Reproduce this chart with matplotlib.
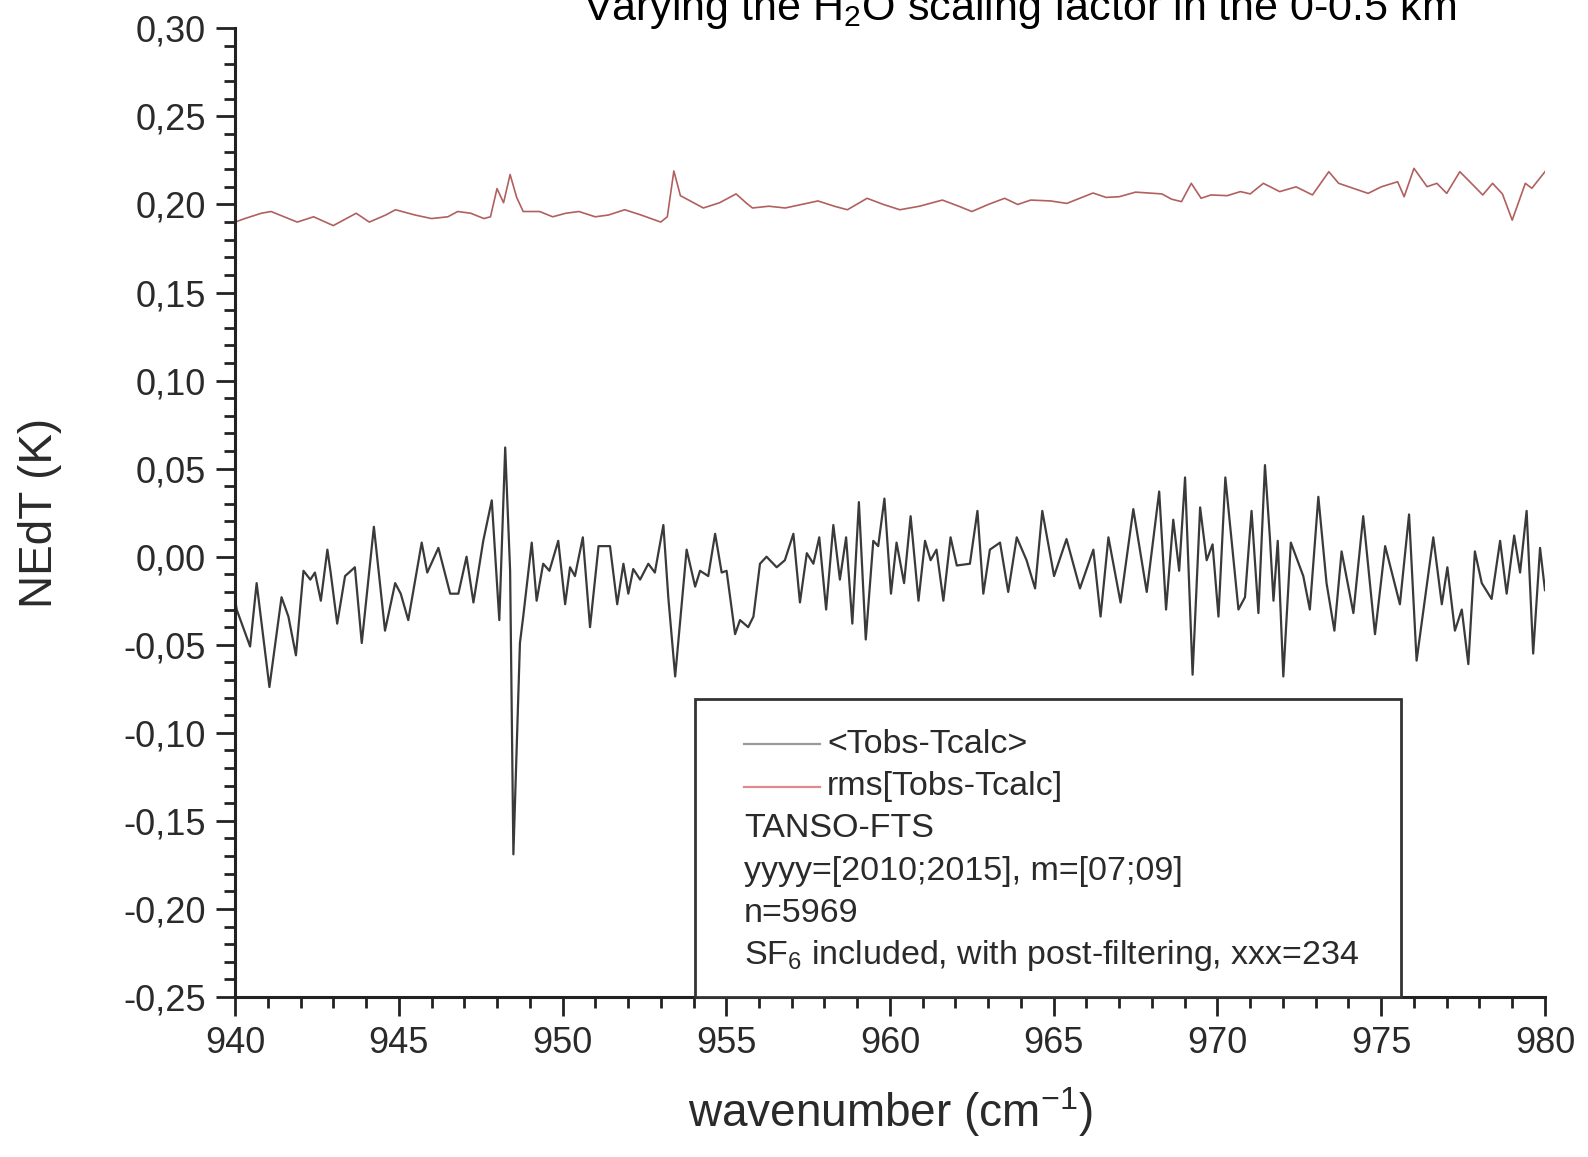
import matplotlib
matplotlib.use("Agg")
import matplotlib.pyplot as plt
from matplotlib.patches import Rectangle
from matplotlib.ticker import MultipleLocator, FuncFormatter

plt.rcParams['font.family'] = ['Liberation Sans', 'DejaVu Sans']
plt.rcParams['mathtext.default'] = 'regular'

# mean residual <Tobs-Tcalc>, wavenumber (cm-1) / NEdT (K)
mean_wn = [940.00, 940.05, 940.46, 940.66, 941.05, 941.42, 941.63, 941.86, 942.09, 942.30,
           942.44, 942.62, 942.82, 942.92, 943.12, 943.36, 943.66, 943.87, 944.24, 944.58,
           944.89, 945.06, 945.29, 945.70, 945.87, 946.21, 946.57, 946.82, 947.07, 947.28,
           947.58, 947.84, 948.07, 948.25, 948.40, 948.50, 948.70, 948.80, 949.06, 949.21,
           949.41, 949.60, 949.87, 950.08, 950.23, 950.38, 950.62, 950.84, 951.10, 951.45,
           951.67, 951.86, 952.01, 952.16, 952.37, 952.62, 952.82, 953.08, 953.23, 953.44,
           953.64, 953.79, 954.05, 954.20, 954.45, 954.66, 954.86, 955.01, 955.27, 955.42,
           955.67, 955.83, 956.03, 956.23, 956.54, 956.79, 957.05, 957.25, 957.46, 957.66,
           957.84, 958.05, 958.27, 958.47, 958.66, 958.85, 959.05, 959.26, 959.49, 959.64,
           959.83, 960.03, 960.20, 960.43, 960.63, 960.87, 961.07, 961.24, 961.42, 961.63,
           961.85, 962.04, 962.44, 962.67, 962.85, 963.05, 963.36, 963.61, 963.87, 964.17,
           964.43, 964.65, 965.01, 965.39, 965.80, 966.21, 966.43, 966.67, 967.04, 967.43,
           967.84, 968.22, 968.43, 968.65, 968.83, 969.01, 969.24, 969.47, 969.67, 969.85,
           970.03, 970.24, 970.64, 970.84, 971.04, 971.25, 971.45, 971.60, 971.71, 971.84,
           972.01, 972.24, 972.62, 972.82, 973.08, 973.33, 973.57, 973.79, 974.15, 974.45,
           974.81, 975.12, 975.57, 975.85, 976.08, 976.59, 976.85, 977.02, 977.25, 977.46,
           977.66, 977.86, 978.07, 978.37, 978.63, 978.83, 979.06, 979.24, 979.44, 979.64,
           979.85, 980.00]
mean_dt = [-0.024, -0.030, -0.051, -0.015, -0.074, -0.023, -0.034, -0.056, -0.008, -0.013,
           -0.009, -0.025, 0.004, -0.009, -0.038, -0.011, -0.006, -0.049, 0.017, -0.042,
           -0.015, -0.021, -0.036, 0.008, -0.009, 0.005, -0.021, -0.021, 0.000, -0.026,
           0.009, 0.032, -0.036, 0.062, -0.008, -0.169, -0.049, -0.034, 0.008, -0.025,
           -0.004, -0.008, 0.009, -0.027, -0.006, -0.011, 0.011, -0.040, 0.006, 0.006,
           -0.027, -0.004, -0.021, -0.007, -0.013, -0.004, -0.009, 0.018, -0.023, -0.068,
           -0.027, 0.004, -0.017, -0.008, -0.011, 0.013, -0.009, -0.008, -0.044, -0.036,
           -0.040, -0.034, -0.004, 0.000, -0.006, -0.002, 0.013, -0.026, 0.002, -0.004,
           0.011, -0.030, 0.018, -0.013, 0.011, -0.038, 0.031, -0.047, 0.009, 0.006,
           0.033, -0.021, 0.008, -0.015, 0.023, -0.025, 0.009, -0.002, 0.004, -0.025,
           0.011, -0.005, -0.004, 0.026, -0.021, 0.004, 0.008, -0.020, 0.011, -0.002,
           -0.018, 0.026, -0.011, 0.010, -0.018, 0.004, -0.034, 0.011, -0.026, 0.027,
           -0.020, 0.037, -0.030, 0.021, -0.008, 0.045, -0.067, 0.028, -0.002, 0.007,
           -0.034, 0.045, -0.030, -0.023, 0.026, -0.032, 0.052, 0.011, -0.025, 0.009,
           -0.068, 0.008, -0.011, -0.030, 0.034, -0.015, -0.042, 0.003, -0.032, 0.023,
           -0.044, 0.006, -0.027, 0.024, -0.059, 0.011, -0.027, -0.006, -0.042, -0.030,
           -0.061, 0.003, -0.015, -0.024, 0.009, -0.021, 0.012, -0.009, 0.026, -0.055,
           0.005, -0.019]

# rms[Tobs-Tcalc]
rms_wn = [940.0, 940.3, 940.8, 941.1, 941.5, 941.9, 942.4, 943.0, 943.4, 943.7,
          944.1, 944.6, 944.9, 945.5, 946.0, 946.5, 946.8, 947.2, 947.6, 947.8,
          948.0, 948.2, 948.4, 948.6, 948.8, 949.3, 949.7, 950.1, 950.5, 951.0,
          951.4, 951.9, 952.4, 953.0, 953.2, 953.4, 953.6, 953.8, 954.3, 954.8,
          955.3, 955.6, 955.8, 956.3, 956.8, 957.3, 957.8, 958.3, 958.7, 959.3,
          959.8, 960.3, 960.9, 961.6, 962.1, 962.5, 963.0, 963.5, 963.9, 964.3,
          964.9, 965.4, 966.2, 966.6, 967.0, 967.5, 968.3, 968.6, 968.9, 969.2,
          969.5, 969.8, 970.3, 970.7, 971.0, 971.4, 971.9, 972.4, 972.9, 973.4,
          973.7, 974.0, 974.6, 975.0, 975.5, 975.7, 976.0, 976.4, 976.7, 977.0,
          977.4, 977.7, 978.1, 978.4, 978.7, 979.0, 979.4, 979.6, 980.0]
rms_dt = [0.190, 0.192, 0.195, 0.196, 0.193, 0.190, 0.193, 0.188, 0.192, 0.195,
          0.190, 0.194, 0.197, 0.194, 0.192, 0.193, 0.196, 0.195, 0.192, 0.193,
          0.209, 0.201, 0.217, 0.204, 0.196, 0.196, 0.193, 0.195, 0.196, 0.193,
          0.194, 0.197, 0.194, 0.190, 0.193, 0.219, 0.205, 0.203, 0.198, 0.201,
          0.206, 0.201, 0.198, 0.199, 0.198, 0.200, 0.202, 0.199, 0.197, 0.2035,
          0.200, 0.197, 0.199, 0.2025, 0.199, 0.196, 0.200, 0.2035, 0.200, 0.2025,
          0.202, 0.2006, 0.2065, 0.204, 0.2044, 0.207, 0.206, 0.203, 0.2016, 0.212,
          0.2035, 0.2054, 0.205, 0.2073, 0.206, 0.212, 0.2073, 0.210, 0.2054, 0.2186,
          0.212, 0.2101, 0.2063, 0.210, 0.2129, 0.2044, 0.2205, 0.2101, 0.212, 0.2063,
          0.2186, 0.213, 0.2054, 0.2120, 0.206, 0.1911, 0.2120, 0.2092, 0.2186]

series_labels = ['<Tobs-Tcalc>', 'rms[Tobs-Tcalc]']
info_lines = ['TANSO-FTS',
              'yyyy=[2010;2015], m=[07;09]',
              'n=5969',
              'SF$_6$ included, with post-filtering, xxx=234']
title = 'Varying the H$_2$O scaling factor in the 0-0.5 km'

black_c = '#3a3a3a'
red_c = '#b0605f'
txt_c = '#2a2a2a'

fig = plt.figure(figsize=(15.88, 11.57), dpi=100)
ax = fig.add_axes([0.1480, 0.1383, 0.8249, 0.8372])

ax.plot(mean_wn, mean_dt, color=black_c, lw=1.6, zorder=2)
ax.plot(rms_wn, rms_dt, color=red_c, lw=1.2, zorder=2)

ax.set_xlim(940, 980)
ax.set_ylim(-0.25, 0.30)
ax.xaxis.set_major_locator(MultipleLocator(5))
ax.xaxis.set_minor_locator(MultipleLocator(1))
ax.yaxis.set_major_locator(MultipleLocator(0.05))
ax.yaxis.set_minor_locator(MultipleLocator(0.01))
ax.yaxis.set_major_formatter(FuncFormatter(lambda v, p: f"{v:.2f}".replace('.', ',')))

for s in ['top', 'right']:
    ax.spines[s].set_visible(False)
for s in ['left', 'bottom']:
    ax.spines[s].set_linewidth(2.2)
    ax.spines[s].set_color('#222222')
ax.tick_params(which='major', direction='out', length=14, width=2, color='#222222',
               labelsize=26, labelcolor=txt_c, pad=7)
ax.tick_params(which='minor', direction='out', length=8, width=2, color='#222222')

ax.set_xlabel('wavenumber (cm$^{-1}$)', fontsize=33, color=txt_c, labelpad=17)
ax.set_ylabel('NEdT (K)', fontsize=33, color=txt_c, labelpad=44)

# info box sitting on the bottom axis
box = Rectangle((0.351, 0.0), 0.539, 0.3077, transform=ax.transAxes,
                facecolor='white', edgecolor='#333333', lw=2, zorder=3, clip_on=False)
ax.add_patch(box)

row0 = 0.2608
dy = 0.0436
for i, (lab, c) in enumerate(zip(series_labels, ['#9a9a9a', '#e08a8e'])):
    y = row0 - i * dy
    ax.plot([0.3886, 0.4466], [y, y], color=c, lw=1.6, transform=ax.transAxes,
            zorder=4, clip_on=False)
    ax.text(0.452, y, lab, transform=ax.transAxes, fontsize=24.5, color=txt_c,
            va='center', ha='left', zorder=4)
for i, line in enumerate(info_lines):
    y = row0 - (i + 2) * dy
    ax.text(0.3886, y, line, transform=ax.transAxes, fontsize=24.5, color=txt_c,
            va='center', ha='left', zorder=4)

fig.text(0.642, 1 - 20 / 1157, title, fontsize=31, color='black',
         ha='center', va='baseline')

fig.savefig('out.png', dpi=100)
